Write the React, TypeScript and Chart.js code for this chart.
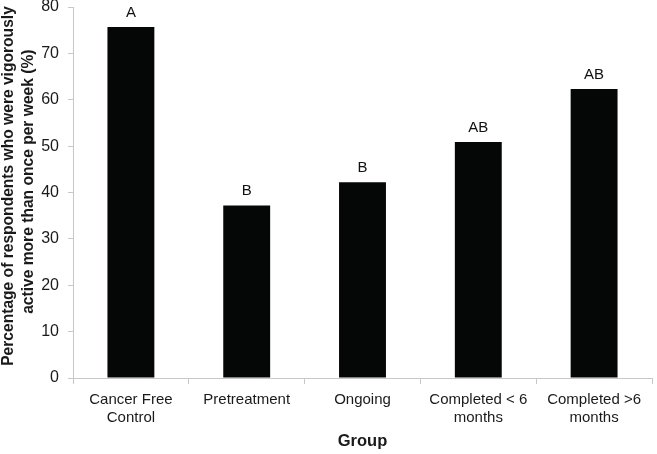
import React, { useEffect, useRef } from "react";
import { Chart, registerables } from "chart.js";

Chart.register(...registerables);

const categories: (string | string[])[] = [
  ["Cancer Free", "Control"],
  "Pretreatment",
  "Ongoing",
  ["Completed < 6", "months"],
  ["Completed >6", "months"],
];
const values = [75.7, 37.2, 42.2, 50.9, 62.3];
const letters = ["A", "B", "B", "AB", "AB"];
const yTitle = [
  "   Percentage of respondents who were vigorously",
  "     active more than once per week (%)",
];
const xTitle = "Group";

const FONT = "'Liberation Sans', Arial, sans-serif";

const letterPlugin = {
  id: "letters",
  afterDatasetsDraw(chart: any) {
    const ctx = chart.ctx;
    const meta = chart.getDatasetMeta(0);
    ctx.save();
    ctx.font = `15px ${FONT}`;
    ctx.fillStyle = "#111";
    ctx.textAlign = "center";
    ctx.textBaseline = "bottom";
    meta.data.forEach((bar: any, i: number) => {
      ctx.fillText(letters[i], bar.x, bar.y - 7);
    });
    ctx.restore();
  },
};

export default function App() {
  const ref = useRef<HTMLCanvasElement>(null);
  useEffect(() => {
    document.body.style.margin = "0";
    const chart = new Chart(ref.current!, {
      type: "bar",
      data: {
        labels: categories,
        datasets: [
          {
            data: values,
            backgroundColor: "#050606",
            borderWidth: 0,
            categoryPercentage: 1,
            barPercentage: 0.405,
          },
        ],
      },
      options: {
        animation: false,
        responsive: false,
        maintainAspectRatio: false,
        layout: { padding: { top: 7, right: 5, left: 0, bottom: 0 } },
        plugins: { legend: { display: false }, tooltip: { enabled: false } },
        scales: {
          x: {
            grid: {
              display: true,
              drawOnChartArea: false,
              offset: true,
              color: "#c8c8c8",
              tickLength: 6,
            },
            border: { color: "#c8c8c8", width: 1 },
            ticks: {
              color: "#1a1a1a",
              font: { family: FONT, size: 15, lineHeight: 1.2 },
              padding: 7,
              maxRotation: 0,
              autoSkip: false,
            },
            title: {
              display: true,
              text: xTitle,
              color: "#1a1a1a",
              font: { family: FONT, size: 16.5, weight: "bold" },
              padding: { top: 6, bottom: 3 },
            },
            afterFit(scale: any) {
              scale.height = 76;
            },
          },
          y: {
            min: 0,
            max: 80,
            ticks: {
              stepSize: 10,
              color: "#1a1a1a",
              font: { family: FONT, size: 16 },
              padding: 9,
            },
            grid: {
              display: true,
              drawOnChartArea: false,
              color: "#c8c8c8",
              tickLength: 5,
            },
            border: { color: "#c8c8c8", width: 1 },
            title: {
              display: true,
              text: yTitle,
              color: "#1a1a1a",
              font: { family: FONT, size: 15.6, weight: "bold", lineHeight: 1.32 },
              padding: { top: -2, bottom: 0 },
            },
            afterFit(scale: any) {
              scale.width = 73;
              scale.paddingTop = 0;
              scale.paddingBottom = 0;
            },
          },
        },
      },
      plugins: [letterPlugin],
    });
    return () => chart.destroy();
  }, []);
  return <canvas ref={ref} width={657} height={454} style={{ display: "block" }} />;
}
